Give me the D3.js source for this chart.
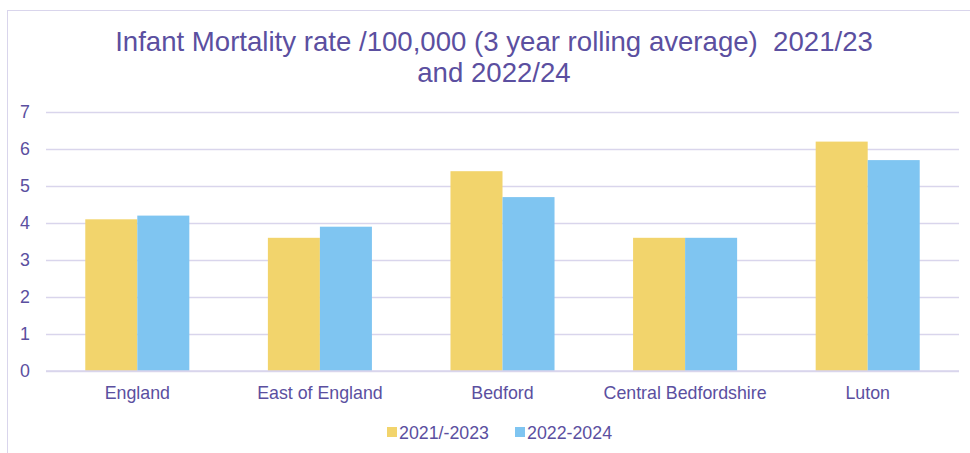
<!DOCTYPE html>
<html><head><meta charset="utf-8">
<script src="https://cdn.jsdelivr.net/npm/d3@7"></script>
<style>body{margin:0;background:#fff;}svg{display:block;font-family:"Liberation Sans",Arial,sans-serif;}</style>
</head><body>
<svg id="chart" width="970" height="453"></svg>
<script>
const categories = ["England", "East of England", "Bedford", "Central Bedfordshire", "Luton"];
const seriesNames = ["2021/-2023", "2022-2024"];
const values2021_23 = [4.1, 3.6, 5.4, 3.6, 6.2];
const values2022_24 = [4.2, 3.9, 4.7, 3.6, 5.7];
const yTicks = [0, 1, 2, 3, 4, 5, 6, 7];
const titleLines = ["Infant Mortality rate /100,000 (3 year rolling average)  2021/23", "and 2022/24"];

const colors = ["#F2D46C", "#7FC5F1"];
const textColor = "#5B4FA0";
const gridColor = "#D9D5EC";

const svg = d3.select("#chart");
svg.append("rect").attr("x", 7.5).attr("y", 10.5).attr("width", 1000).attr("height", 500)
  .attr("fill", "none").attr("stroke", "#D9D5EC").attr("stroke-width", 1);

const M = {left: 46, right: 959, top: 112, bottom: 371};
const x0 = d3.scaleBand().domain(categories).range([M.left, M.right]).paddingInner(0.4302).paddingOuter(0.2151);
const x1 = d3.scaleBand().domain(seriesNames).range([0, x0.bandwidth()]);
const y = d3.scaleLinear().domain([0, 7]).range([M.bottom, M.top]);

svg.append("text").attr("x", 494).attr("y", 51).attr("text-anchor", "middle")
  .attr("fill", textColor).style("font-size", "27.6px").style("white-space", "pre")
  .selectAll("tspan").data(titleLines).join("tspan")
  .attr("x", 494).attr("dy", (d, i) => i ? 31 : 0).text(d => d);

const yAxis = d3.axisLeft(y).tickValues(yTicks).tickSize(-(M.right - M.left)).tickPadding(16).tickFormat(d3.format("d"));
const gy = svg.append("g").attr("transform", `translate(${M.left},0)`).call(yAxis);
gy.select(".domain").remove();
gy.selectAll(".tick line").attr("stroke", gridColor).attr("stroke-width", 1.3);
gy.selectAll(".tick text").attr("fill", textColor).style("font-size", "17.8px").attr("font-family", "Liberation Sans, Arial, sans-serif");

const series = [values2021_23, values2022_24];
const g = svg.append("g");
categories.forEach((c, ci) => {
  series.forEach((vals, si) => {
    g.append("rect")
      .attr("x", x0(c) + x1(seriesNames[si]))
      .attr("y", y(vals[ci]))
      .attr("width", x1.bandwidth())
      .attr("height", y(0) - y(vals[ci]))
      .attr("fill", colors[si]);
  });
});

const xAxis = d3.axisBottom(x0).tickSize(0).tickPadding(15);
const gx = svg.append("g").attr("transform", `translate(0,${M.bottom})`).call(xAxis);
gx.select(".domain").remove();
gx.selectAll(".tick text").attr("fill", textColor).style("font-size", "17.8px").attr("font-family", "Liberation Sans, Arial, sans-serif");

svg.append("line").attr("x1", M.left).attr("x2", M.right).attr("y1", y(0)).attr("y2", y(0))
  .attr("stroke", gridColor).attr("stroke-width", 1.3);

const legendItems = [{name: seriesNames[0], x: 387}, {name: seriesNames[1], x: 515}];
legendItems.forEach((d, i) => {
  svg.append("rect").attr("x", d.x).attr("y", 427).attr("width", 10).attr("height", 10).attr("fill", colors[i]);
  svg.append("text").attr("x", d.x + 12).attr("y", 439).attr("fill", textColor).style("font-size", "17.8px").text(d.name);
});
</script>
</body></html>
